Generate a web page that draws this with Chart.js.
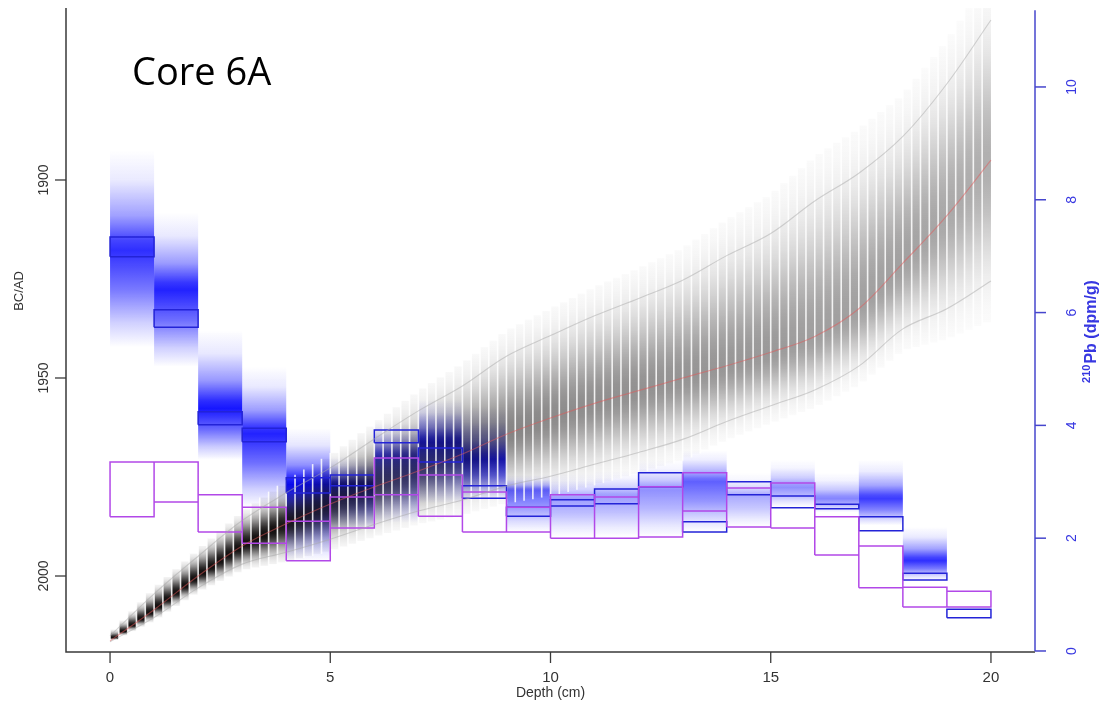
<!DOCTYPE html>
<html><head><meta charset="utf-8">
<script src="https://cdn.jsdelivr.net/npm/chart.js@4.4.1/dist/chart.umd.min.js"></script>
<style>html,body{margin:0;padding:0;background:#fff;}#wrap{position:relative;width:1108px;height:706px;}canvas{display:block;}</style>
</head><body><div id="wrap"><canvas id="c" width="1108" height="706"></canvas></div>
<script>
// ---- tick labels ----
const depthTicks = [0, 5, 10, 15, 20];
const yearTicks = [1900, 1950, 2000];
const pbTicks = [0, 2, 4, 6, 8, 10];
const titleText = "Core 6A";
const xTitle = "Depth (cm)";
const yTitle = "BC/AD";
const y2TitleSup = "210";
const y2TitleMain = "Pb (dpm/g)";

// ---- age-depth model (cal. years AD) at each cm ----
const modelDepths = [0,1,2,3,4,5,6,7,8,9,10,11,12,13,14,15,16,17,18,19,20];
const ageUpper = [2015.1,2004.5,1995.0,1986.0,1979.0,1972.7,1965.4,1958.3,1952.0,1944.5,1939.3,1934.3,1929.9,1925.3,1919.1,1913.5,1905.3,1898.3,1889.0,1875.7,1859.6];
const ageMean  = [2016.4,2008.5,2000.0,1992.4,1986.8,1981.8,1977.5,1973.5,1969.2,1964.2,1960.1,1956.4,1953.2,1950.0,1946.9,1943.5,1939.5,1932.5,1921.0,1909.0,1895.0];
const ageLower = [2016.6,2010.5,2003.0,1997.0,1994.0,1990.7,1987.0,1983.6,1980.8,1977.3,1974.8,1971.8,1968.8,1965.5,1961.0,1957.0,1953.0,1947.0,1937.6,1932.5,1925.5];

// ---- 210Pb samples (1 cm slices), dpm/g ----
const sliceTop = [0,1,2,3,4,5,6,7,8,9,10,11,12,13,14,15,16,17,18,19];
const purpleLo = [2.38,2.64,2.11,1.91,1.60,2.18,2.77,2.39,2.11,2.11,2.00,2.00,2.02,2.48,2.20,2.18,1.70,1.12,0.78,0.78];
const purpleHi = [3.35,3.35,2.77,2.55,2.30,2.73,3.42,3.12,2.82,2.55,2.77,2.73,2.91,3.16,2.89,2.98,2.38,1.86,1.13,1.06];
const blueLo   = [6.99,5.74,4.01,3.71,2.80,2.93,3.69,3.35,2.71,2.39,2.57,2.61,2.91,2.11,2.77,2.54,2.52,2.13,1.26,0.59];
const blueHi   = [7.34,6.05,4.24,3.95,3.07,3.12,3.92,3.60,2.93,2.55,2.68,2.87,3.16,2.29,3.00,2.75,2.60,2.38,1.38,0.74];
// modelled 210Pb clouds
const gradTop  = [8.88,7.77,5.69,5.04,3.95,3.44,4.04,4.45,4.33,3.12,3.16,3.20,3.39,3.56,3.16,3.39,3.16,3.39,2.20,0];
const gradMode = [7.10,6.40,4.30,3.85,2.95,2.95,3.45,3.70,3.40,2.85,2.70,2.75,2.85,3.00,2.75,2.90,2.70,2.70,1.60,0];
const gradBot  = [5.39,5.04,3.39,2.55,1.60,2.16,2.27,2.62,2.68,2.11,2.02,2.02,2.02,2.11,2.20,2.55,2.46,2.23,1.26,0];
const gradAlpha= [0.85,0.9,0.95,0.9,1.0,0.95,0.8,0.95,0.95,0.65,0.4,0.4,0.45,0.65,0.35,0.45,0.5,0.8,0.85,0];

function interp(arr, d){
  let i = Math.floor(d); if (i > modelDepths.length-2) i = modelDepths.length-2;
  const f = (d - modelDepths[i]) / (modelDepths[i+1]-modelDepths[i]);
  return arr[i]*(1-f) + arr[i+1]*f;
}
function boxPoints(lo, hi){
  const pts = [];
  sliceTop.forEach((d,i)=>{
    pts.push({x:d,y:lo[i]},{x:d+1,y:lo[i]},{x:d+1,y:hi[i]},{x:d,y:hi[i]},{x:d,y:lo[i]},{x:d+0.5,y:null});
  });
  return pts;
}
const PURPLE = 'rgb(178,72,232)';
const BLUE = 'rgb(35,35,215)';
const AXISBLUE = 'rgb(70,70,205)';
const TEXTBLUE = 'rgb(55,55,225)';

const layers = {
  id:'layers',
  beforeDatasetsDraw(chart){
    const {ctx, chartArea:a, scales:{x, y, y2}} = chart;
    ctx.save();
    ctx.beginPath(); ctx.rect(a.left,a.top,a.right-a.left,a.bottom-a.top); ctx.clip();
    // blue clouds
    sliceTop.forEach((d,i)=>{
      const p = gradAlpha[i]; if(!p) return;
      const x0=x.getPixelForValue(d), x1=x.getPixelForValue(d+1);
      const yT=y2.getPixelForValue(gradTop[i]), yM=y2.getPixelForValue(gradMode[i]), yB=y2.getPixelForValue(gradBot[i]);
      const g=ctx.createLinearGradient(0,yT,0,yB); const f=(yM-yT)/(yB-yT);
      const st=[[0,0],[f*0.3,0.1],[f*0.65,0.45],[f*0.9,0.9],[f,1],[f+(1-f)*0.4,0.65],[f+(1-f)*0.75,0.22],[1,0]];
      st.forEach(([o,al])=>g.addColorStop(o,`rgba(10,10,255,${(al*p).toFixed(3)})`));
      ctx.fillStyle=g; ctx.fillRect(x0,yT,x1-x0,yB-yT);
    });
    // grey age-model strips
    const step=0.2, n=Math.round(20/step), ext=[], K=2.6;
    for(let k=0;k<n;k++){
      const d0=k*step, dc=d0+step/2;
      const up=interp(ageUpper,dc), m=interp(ageMean,dc), lo=interp(ageLower,dc);
      const su=Math.max(0.2,(m-up)/1.96), sl=Math.max(0.2,(lo-m)/1.96);
      const yT=y.getPixelForValue(m-K*su), yM=y.getPixelForValue(m), yB=y.getPixelForValue(m+K*sl);
      const peak=Math.min(1, 0.15 + 12/(lo-up));
      const g=ctx.createLinearGradient(0,yT,0,yB); const f=(yM-yT)/(yB-yT);
      for(let j=0;j<=10;j++){ const t=-K+j*K/10; g.addColorStop(f*j/10, `rgba(18,15,15,${(peak*Math.exp(-t*t/2.2)).toFixed(3)})`); }
      for(let j=1;j<=10;j++){ const t=j*K/10; g.addColorStop(f+(1-f)*j/10, `rgba(18,15,15,${(peak*Math.exp(-t*t/2.2)).toFixed(3)})`); }
      const x0=x.getPixelForValue(d0), x1=x.getPixelForValue(d0+step);
      ctx.fillStyle=g; ctx.fillRect(x0,yT,x1-x0,yB-yT);
      ext.push([x0,yT,yB]);
    }
    ctx.strokeStyle='rgba(255,255,255,0.85)'; ctx.lineWidth=1.6;
    ext.forEach(([x0,yT,yB],k)=>{
      const prev = k>0 ? ext[k-1] : ext[k];
      ctx.beginPath(); ctx.moveTo(x0, Math.min(yT,prev[1])); ctx.lineTo(x0, Math.max(yB,prev[2])); ctx.stroke();
    });
    ctx.restore();
  },
  afterDraw(chart){
    const {ctx, chartArea:a, scales:{x, y, y2}} = chart;
    ctx.save();
    // axes lines
    ctx.strokeStyle='#3a3a3a'; ctx.lineWidth=1.5;
    ctx.beginPath(); ctx.moveTo(a.left, a.top); ctx.lineTo(a.left, a.bottom); ctx.lineTo(a.right, a.bottom); ctx.stroke();
    ctx.lineWidth=1.3;
    depthTicks.forEach(v=>{ const px=x.getPixelForValue(v); ctx.beginPath(); ctx.moveTo(px,a.bottom); ctx.lineTo(px,a.bottom+11); ctx.stroke(); });
    yearTicks.forEach(v=>{ const py=y.getPixelForValue(v); ctx.beginPath(); ctx.moveTo(a.left,py); ctx.lineTo(a.left-11,py); ctx.stroke(); });
    ctx.strokeStyle=AXISBLUE; ctx.lineWidth=1.5;
    ctx.beginPath(); ctx.moveTo(a.right, y2.getPixelForValue(11.36)); ctx.lineTo(a.right, y2.getPixelForValue(0)); ctx.stroke();
    pbTicks.forEach(v=>{ const py=y2.getPixelForValue(v); ctx.beginPath(); ctx.moveTo(a.right,py); ctx.lineTo(a.right+11,py); ctx.stroke(); });
    // labels
    ctx.fillStyle='#333'; ctx.textAlign='center'; ctx.textBaseline='middle';
    ctx.font='15px "Liberation Sans", Arial, sans-serif';
    depthTicks.forEach(v=>{ ctx.fillText(String(v), x.getPixelForValue(v), a.bottom+26); });
    ctx.font='14px "Liberation Sans", Arial, sans-serif';
    ctx.fillText(xTitle, x.getPixelForValue(10), a.bottom+41);
    ctx.font='14px "Liberation Sans", Arial, sans-serif';
    yearTicks.forEach(v=>{ ctx.save(); ctx.translate(44, y.getPixelForValue(v)); ctx.rotate(-Math.PI/2); ctx.fillText(String(v),0,0); ctx.restore(); });
    ctx.save(); ctx.translate(19, 291); ctx.rotate(-Math.PI/2); ctx.font='13px "Liberation Sans", Arial, sans-serif'; ctx.fillText(yTitle,0,0); ctx.restore();
    ctx.fillStyle=TEXTBLUE; ctx.font='14px "Liberation Sans", Arial, sans-serif';
    pbTicks.forEach(v=>{ ctx.save(); ctx.translate(1072, y2.getPixelForValue(v)); ctx.rotate(-Math.PI/2); ctx.fillText(String(v),0,0); ctx.restore(); });
    // right title with superscript
    ctx.save(); ctx.translate(1092, 332); ctx.rotate(-Math.PI/2); ctx.textAlign='left';
    const fSup='bold 11px "Liberation Sans", Arial, sans-serif', fMain='bold 16px "Liberation Sans", Arial, sans-serif';
    ctx.font=fSup; const w1=ctx.measureText(y2TitleSup).width; ctx.font=fMain; const w2=ctx.measureText(y2TitleMain).width;
    const sx=-(w1+w2)/2;
    ctx.font=fSup; ctx.fillText(y2TitleSup, sx, -5);
    ctx.font=fMain; ctx.fillText(y2TitleMain, sx+w1+1, 0);
    ctx.restore();
    // panel title
    ctx.fillStyle='#000'; ctx.textAlign='left'; ctx.textBaseline='alphabetic';
    ctx.font='38px "Open Sans", "Noto Sans", sans-serif';
    ctx.fillText(titleText, 132, 85);
    ctx.restore();
  }
};

new Chart(document.getElementById('c'), {
  type:'line',
  data:{ datasets:[
    { data: modelDepths.map((d,i)=>({x:d,y:ageUpper[i]})), yAxisID:'y', borderColor:'rgba(170,170,170,0.5)', borderWidth:1.1, pointRadius:0, tension:0.35 },
    { data: modelDepths.map((d,i)=>({x:d,y:ageLower[i]})), yAxisID:'y', borderColor:'rgba(170,170,170,0.5)', borderWidth:1.1, pointRadius:0, tension:0.35 },
    { data: modelDepths.map((d,i)=>({x:d,y:ageMean[i]})), yAxisID:'y', borderColor:'rgba(225,90,90,0.5)', borderWidth:1.2, pointRadius:0, tension:0.35 },
    { data: boxPoints(purpleLo, purpleHi), yAxisID:'y2', borderColor:PURPLE, borderWidth:1.5, pointRadius:0, spanGaps:false, tension:0 },
    { data: boxPoints(blueLo, blueHi), yAxisID:'y2', borderColor:BLUE, borderWidth:1.5, pointRadius:0, spanGaps:false, tension:0 }
  ]},
  options:{
    responsive:false, animation:false, devicePixelRatio:1,
    layout:{ padding:{ left:66, right:73, top:8, bottom:54 } },
    plugins:{ legend:{display:false}, tooltip:{enabled:false} },
    scales:{
      x:{ type:'linear', min:-1, max:21, display:false },
      y:{ type:'linear', min:1856.57, max:2019.19, reverse:true, display:false },
      y2:{ type:'linear', min:-0.018, max:11.40, display:false, position:'right' }
    }
  },
  plugins:[layers]
});
</script></body></html>
